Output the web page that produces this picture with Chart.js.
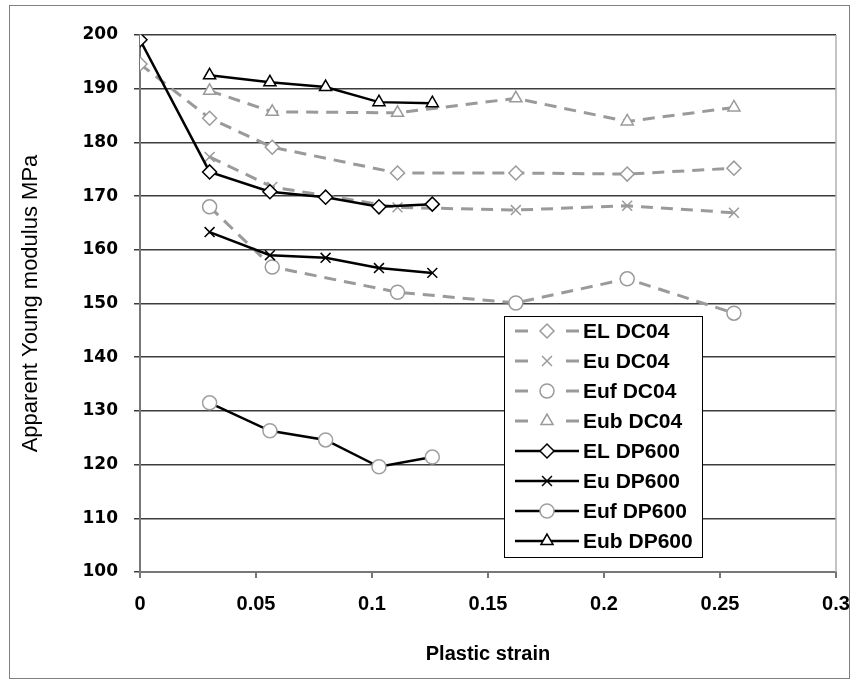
<!DOCTYPE html>
<html>
<head>
<meta charset="utf-8">
<script src="https://cdn.jsdelivr.net/npm/chart.js@4/dist/chart.umd.min.js"></script>
<style>
html,body{margin:0;padding:0;background:#fff;}
#wrap{width:853px;height:682px;position:relative;}
</style>
</head>
<body>
<div id="wrap"><canvas id="c" width="853" height="682"></canvas></div>
<script>
// ---- data ----
const strainEL_DC04 = [0, 0.03, 0.057, 0.111, 0.162, 0.21, 0.256];
const strainDC04 = [0.03, 0.057, 0.111, 0.162, 0.21, 0.256];
const strainEL_DP600 = [0, 0.03, 0.056, 0.08, 0.103, 0.126];
const strainDP600 = [0.03, 0.056, 0.08, 0.103, 0.126];

const EL_DC04 = [194.6, 184.5, 179.1, 174.3, 174.3, 174.1, 175.2];
const Eu_DC04 = [177.3, 171.7, 167.9, 167.4, 168.2, 166.9];
const Euf_DC04 = [168.0, 156.8, 152.1, 150.1, 154.6, 148.2];
const Eub_DC04 = [189.6, 185.7, 185.5, 188.2, 183.9, 186.5];

const EL_DP600 = [199.1, 174.5, 170.8, 169.8, 168.0, 168.5];
const Eu_DP600 = [163.3, 159.0, 158.5, 156.6, 155.7];
const Euf_DP600 = [131.5, 126.3, 124.6, 119.6, 121.4];
const Eub_DP600 = [192.5, 191.2, 190.3, 187.5, 187.3];

const seriesNames = ['EL DC04','Eu DC04','Euf DC04','Eub DC04','EL DP600','Eu DP600','Euf DP600','Eub DP600'];
const xTickLabels = ['0','0.05','0.1','0.15','0.2','0.25','0.3'];
const yTickLabels = ['100','110','120','130','140','150','160','170','180','190','200'];

// ---- styles ----
const GRAY = '#9a9a9a';
const pts = (xs, ys) => ys.map((v, i) => ({x: xs[i], y: v}));

function dcSet(label, xs, ys, style, order) {
  return {label, data: pts(xs, ys), showLine: true, order,
    borderColor: GRAY, borderWidth: 3, borderDash: [12, 8],
    pointStyle: style, pointRadius: 7, pointHoverRadius: 7,
    pointBackgroundColor: '#fff', pointBorderColor: GRAY, pointBorderWidth: 1.5};
}
function dpSet(label, xs, ys, style, order, markerColor) {
  return {label, data: pts(xs, ys), showLine: true, order,
    borderColor: '#000', borderWidth: 2.5,
    pointStyle: style, pointRadius: 7, pointHoverRadius: 7,
    pointBackgroundColor: '#fff', pointBorderColor: markerColor || '#000', pointBorderWidth: 1.5};
}

const datasets = [
  dcSet(seriesNames[0], strainEL_DC04, EL_DC04, 'rectRot', 8),
  dcSet(seriesNames[1], strainDC04, Eu_DC04, 'crossRot', 7),
  dcSet(seriesNames[2], strainDC04, Euf_DC04, 'circle', 6),
  dcSet(seriesNames[3], strainDC04, Eub_DC04, 'triangle', 5),
  dpSet(seriesNames[4], strainEL_DP600, EL_DP600, 'rectRot', 4),
  dpSet(seriesNames[5], strainDP600, Eu_DP600, 'crossRot', 3),
  dpSet(seriesNames[6], strainDP600, Euf_DP600, 'circle', 2, '#a0a0a0'),
  dpSet(seriesNames[7], strainDP600, Eub_DP600, 'triangle', 1)
];

const decor = {
  id: 'decor',
  beforeDraw(chart) {
    const ctx = chart.ctx;
    ctx.save();
    ctx.fillStyle = '#fff';
    ctx.fillRect(0, 0, chart.width, chart.height);
    ctx.strokeStyle = '#808080';
    ctx.lineWidth = 1;
    ctx.strokeRect(9.5, 5.5, 840, 673);
    ctx.restore();
  },
  afterDatasetsDraw(chart) {
    const ctx = chart.ctx;
    const a = chart.chartArea;
    ctx.save();
    // plot area right border
    ctx.strokeStyle = '#b0b0b0';
    ctx.lineWidth = 1.5;
    ctx.beginPath();
    ctx.moveTo(a.right, a.top);
    ctx.lineTo(a.right, a.bottom);
    ctx.stroke();

    // legend box
    const bx = 504, by = 316, bw = 198, bh = 241;
    ctx.fillStyle = '#fff';
    ctx.fillRect(bx, by, bw, bh);
    ctx.strokeStyle = '#000';
    ctx.lineWidth = 1;
    ctx.strokeRect(bx + 0.5, by + 0.5, bw, bh);
    const rowH = 30, y0 = 331;
    chart.data.datasets.forEach((ds, i) => {
      const y = y0 + i * rowH;
      const mx = 547;
      ctx.strokeStyle = ds.borderColor;
      ctx.lineWidth = ds.borderWidth;
      ctx.setLineDash([]);
      ctx.beginPath();
      if (ds.borderDash) {
        ctx.moveTo(515, y); ctx.lineTo(528, y);
        ctx.moveTo(566, y); ctx.lineTo(579, y);
      } else {
        ctx.moveTo(515, y); ctx.lineTo(579, y);
      }
      ctx.stroke();
      ctx.fillStyle = ds.pointBackgroundColor;
      ctx.strokeStyle = ds.pointBorderColor;
      ctx.lineWidth = ds.pointBorderWidth;
      Chart.helpers.drawPoint(ctx, {pointStyle: ds.pointStyle, radius: 7, rotation: 0, borderWidth: ds.pointBorderWidth}, mx, y);
      ctx.fillStyle = '#000';
      ctx.font = 'bold 21px "Liberation Sans", Arial, sans-serif';
      ctx.textBaseline = 'middle';
      ctx.textAlign = 'left';
      ctx.fillText(ds.label, 583, y + 1);
    });
    ctx.restore();
  }
};

new Chart(document.getElementById('c'), {
  type: 'scatter',
  data: {datasets},
  plugins: [decor],
  options: {
    responsive: false,
    animation: false,
    events: [],
    layout: {padding: {left: 0, right: 17, top: 35, bottom: 0}},
    plugins: {legend: {display: false}, tooltip: {enabled: false}},
    scales: {
      x: {
        type: 'linear', min: 0, max: 0.3,
        afterFit(s) { s.height = 110; s.paddingRight = 0; s.paddingLeft = 0; },
        border: {display: true, color: '#777', width: 2},
        grid: {drawOnChartArea: false, drawTicks: true, tickLength: 6, color: '#777', lineWidth: 2},
        ticks: {stepSize: 0.05, padding: 14, color: '#000',
          font: {family: '"Liberation Sans", Arial, sans-serif', size: 20, weight: 'bold'},
          callback: (v, i) => xTickLabels[i]},
        title: {display: true, text: 'Plastic strain', color: '#000',
          font: {family: '"Liberation Sans", Arial, sans-serif', size: 20, weight: 'bold'},
          padding: {top: 0, bottom: 16}}
      },
      y: {
        type: 'linear', min: 100, max: 200,
        afterFit(s) { s.width = 140; s.paddingTop = 0; s.paddingBottom = 0; },
        border: {display: true, color: '#777', width: 2},
        grid: {color: '#3c3c3c', lineWidth: 1.5, tickLength: 6},
        ticks: {stepSize: 10, padding: 16, color: '#000',
          font: {family: '"DejaVu Sans", sans-serif', size: 17, weight: 'bold'},
          callback: (v, i) => yTickLabels[i]},
        title: {display: true, text: 'Apparent Young modulus MPa', color: '#000',
          font: {family: '"Liberation Sans", Arial, sans-serif', size: 22, weight: 'normal'},
          padding: {top: 18, bottom: 0}}
      }
    }
  }
});
</script>
</body>
</html>
